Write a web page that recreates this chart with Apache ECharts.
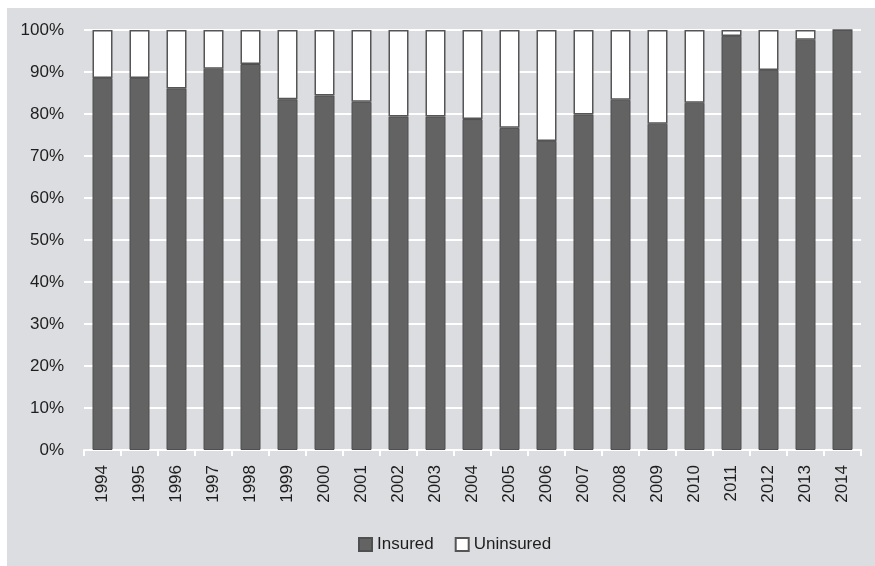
<!DOCTYPE html>
<html>
<head>
<meta charset="utf-8">
<script src="https://cdn.jsdelivr.net/npm/echarts@6/dist/echarts.min.js"></script>
<style>
  html, body { margin: 0; padding: 0; background: #ffffff; }
  #frame { position: absolute; left: 7px; top: 8px; width: 868px; height: 558px; background: #dcdde0; }
  #chart { position: absolute; left: 0; top: 0; width: 875px; height: 566px; }
</style>
</head>
<body>
<div id="frame"></div>
<div id="chart"></div>
<script>
// Share of insured vs uninsured, by year (percent)
const years = ['1994','1995','1996','1997','1998','1999','2000','2001','2002','2003','2004',
               '2005','2006','2007','2008','2009','2010','2011','2012','2013','2014'];
const insured   = [88.6, 88.6, 86.1, 90.8, 91.9, 83.5, 84.4, 82.9, 79.4, 79.4, 78.8,
                   76.7, 73.6, 79.9, 83.4, 77.7, 82.7, 98.6, 90.5, 97.7, 100];
const uninsured = [11.4, 11.4, 13.9, 9.2, 8.1, 16.5, 15.6, 17.1, 20.6, 20.6, 21.2,
                   23.3, 26.4, 20.1, 16.6, 22.3, 17.3, 1.4, 9.5, 2.3, 0];
const yTicks = [0, 10, 20, 30, 40, 50, 60, 70, 80, 90, 100];

const font = '"Liberation Sans", Arial, sans-serif';
const chart = echarts.init(document.getElementById('chart'), null, { renderer: 'canvas' });

chart.setOption({
  backgroundColor: 'transparent',
  animation: false,
  grid: { left: 84, right: 14, top: 30, bottom: 116, containLabel: false },
  legend: {
    left: 353, top: 531,
    itemWidth: 13, itemHeight: 13, itemGap: 21,
    icon: 'rect',
    textStyle: { fontFamily: font, fontSize: 17, color: '#1e1e1e' },
    data: ['Insured', 'Uninsured']
  },
  xAxis: {
    type: 'category',
    data: years,
    boundaryGap: true,
    axisLine: { lineStyle: { color: '#ffffff', width: 2 } },
    axisTick: { show: true, length: 6, lineStyle: { color: '#ffffff', width: 2 } },
    axisLabel: { rotate: 90, margin: 15, fontFamily: font, fontSize: 17, color: '#1e1e1e' },
    splitLine: { show: false }
  },
  yAxis: {
    type: 'value',
    min: yTicks[0], max: yTicks[yTicks.length - 1], interval: 10,
    axisLine: { show: false },
    axisTick: { show: false },
    axisLabel: { margin: 20, fontFamily: font, fontSize: 17, color: '#1e1e1e', formatter: v => v + '%' },
    splitLine: { lineStyle: { color: '#ffffff', width: 2 } }
  },
  series: [
    {
      name: 'Insured', type: 'bar', stack: 'all', barWidth: 20,
      data: insured,
      itemStyle: { color: '#636363', borderColor: '#4f4f4f', borderWidth: 1 }
    },
    {
      name: 'Uninsured', type: 'bar', stack: 'all', barWidth: 20,
      data: uninsured,
      itemStyle: { color: '#ffffff', borderColor: '#555555', borderWidth: 1.5 }
    }
  ]
});
</script>
</body>
</html>
